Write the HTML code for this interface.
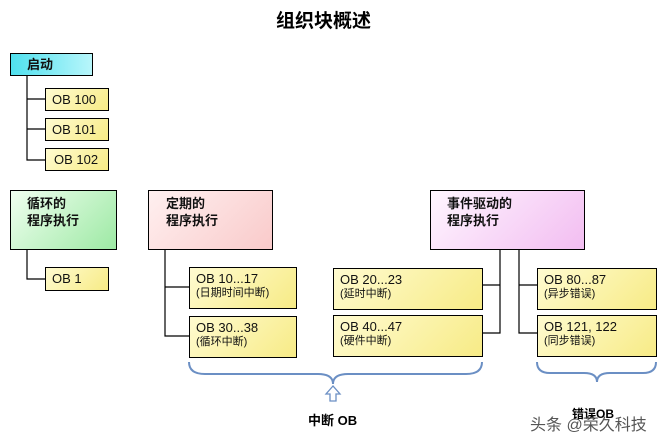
<!DOCTYPE html>
<html><head><meta charset="utf-8"><style>
body{margin:0;width:664px;height:443px;background:#fff;position:relative;overflow:hidden;font-family:"Liberation Sans","Noto Sans CJK SC",sans-serif;}
.b{position:absolute;border:1px solid #000;box-sizing:border-box;}
.h{font-weight:bold;font-size:13px;line-height:17px;color:#111;}
.y{background:linear-gradient(135deg,#fffbd0,#f7eb86);font-size:13px;color:#111;line-height:15px;}
.y span{display:block;font-size:11px;line-height:14px;}
.t{position:absolute;font-weight:bold;}
</style></head><body>
<svg width="664" height="443" style="position:absolute;left:0;top:0">
<g stroke="#000" stroke-width="1.2" fill="none">
<path d="M27 75V160H45M27 99H45M27 129H45"/>
<path d="M27 249V279H45"/>
<path d="M165 249V336H189M165 287H189"/>
<path d="M500 249V333H482M500 285H482"/>
<path d="M519 249V333H537M519 285H537"/>
</g>
<g stroke="#6b8fc4" stroke-width="2" fill="none">
<path d="M189 362Q189 374 205 374H318Q333 374 333 384Q333 374 348 374H466Q482 374 482 362"/>
<path d="M537 362Q537 373 550 373H584Q597 373 597 382Q597 373 610 373H643Q656 373 656 362"/>
</g>
<path d="M333 386L326 394H330V401H336V394H340Z" fill="#fff" stroke="#6b8fc4" stroke-width="1.3"/>
</svg>
<div class="t" style="left:276px;top:6px;font-size:19px;">组织块概述</div>
<div class="b h" style="left:10px;top:53px;width:83px;height:23px;background:linear-gradient(90deg,#4fe0ee,#b8f6fb);padding:2px 0 0 16px;">启动</div>
<div class="b y" style="left:45px;top:88px;width:64px;height:23px;padding:3px 0 0 6px;">OB 100</div>
<div class="b y" style="left:45px;top:118px;width:64px;height:23px;padding:3px 0 0 6px;">OB 101</div>
<div class="b y" style="left:45px;top:148px;width:64px;height:23px;padding:3px 0 0 8px;">OB 102</div>
<div class="b h" style="left:10px;top:190px;width:107px;height:60px;background:linear-gradient(135deg,#f0fff0,#9de9a4);padding:4px 0 0 16px;">循环的<br>程序执行</div>
<div class="b y" style="left:45px;top:267px;width:64px;height:24px;padding:3px 0 0 6px;">OB 1</div>
<div class="b h" style="left:148px;top:190px;width:125px;height:60px;background:linear-gradient(135deg,#fff0f0,#f9caca);padding:4px 0 0 17px;">定期的<br>程序执行</div>
<div class="b h" style="left:430px;top:190px;width:155px;height:60px;background:linear-gradient(135deg,#fff6ff,#f2bdf1);padding:4px 0 0 16px;">事件驱动的<br>程序执行</div>
<div class="b y" style="left:189px;top:267px;width:108px;height:42px;padding:3px 0 0 6px;">OB 10...17<span>(日期时间中断)</span></div>
<div class="b y" style="left:189px;top:316px;width:108px;height:42px;padding:3px 0 0 6px;">OB 30...38<span>(循环中断)</span></div>
<div class="b y" style="left:333px;top:268px;width:150px;height:42px;padding:3px 0 0 6px;">OB 20...23<span>(延时中断)</span></div>
<div class="b y" style="left:333px;top:315px;width:150px;height:42px;padding:3px 0 0 6px;">OB 40...47<span>(硬件中断)</span></div>
<div class="b y" style="left:537px;top:268px;width:120px;height:42px;padding:3px 0 0 6px;">OB 80...87<span>(异步错误)</span></div>
<div class="b y" style="left:537px;top:315px;width:120px;height:42px;padding:3px 0 0 6px;">OB 121, 122<span>(同步错误)</span></div>
<div class="t" style="left:308px;top:410px;font-size:13px;">中断 OB</div>
<div class="t" style="left:572px;top:405px;font-size:12px;">错误OB</div>
<div style="position:absolute;left:530px;top:411px;font-size:16px;color:#555;">头条 @荣久科技</div>
</body></html>
